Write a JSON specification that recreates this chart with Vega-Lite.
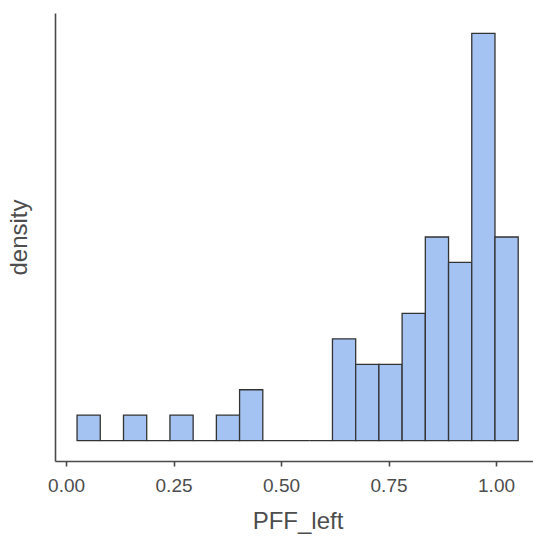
{
  "$schema": "https://vega.github.io/schema/vega-lite/v6.json",
  "autosize": {"type": "none"},
  "padding": {"left": 55, "top": 13, "right": 0, "bottom": 77},
  "width": 485,
  "height": 448,
  "background": "white",
  "config": {
    "view": {"stroke": null},
    "font": "Liberation Sans",
    "axis": {
      "grid": false,
      "domainColor": "#4a4a4a",
      "domainWidth": 1.6,
      "tickColor": "#4a4a4a",
      "tickWidth": 1.6,
      "labelColor": "#4d4d4d",
      "titleColor": "#4d4d4d",
      "titleFontWeight": "normal",
      "labelFont": "Liberation Sans",
      "titleFont": "Liberation Sans"
    }
  },
  "data": {
    "values": [
      {"bin_start": 0.0256, "bin_end": 0.0796, "count": 1, "density": 0.3086},
      {"bin_start": 0.0796, "bin_end": 0.1336, "count": 0, "density": 0},
      {"bin_start": 0.1336, "bin_end": 0.1876, "count": 1, "density": 0.3086},
      {"bin_start": 0.1876, "bin_end": 0.2416, "count": 0, "density": 0},
      {"bin_start": 0.2416, "bin_end": 0.2956, "count": 1, "density": 0.3086},
      {"bin_start": 0.2956, "bin_end": 0.3496, "count": 0, "density": 0},
      {"bin_start": 0.3496, "bin_end": 0.4036, "count": 1, "density": 0.3086},
      {"bin_start": 0.4036, "bin_end": 0.4576, "count": 2, "density": 0.6173},
      {"bin_start": 0.4576, "bin_end": 0.5116, "count": 0, "density": 0},
      {"bin_start": 0.5116, "bin_end": 0.5656, "count": 0, "density": 0},
      {"bin_start": 0.5656, "bin_end": 0.6196, "count": 0, "density": 0},
      {"bin_start": 0.6196, "bin_end": 0.6736, "count": 4, "density": 1.2346},
      {"bin_start": 0.6736, "bin_end": 0.7276, "count": 3, "density": 0.9259},
      {"bin_start": 0.7276, "bin_end": 0.7816, "count": 3, "density": 0.9259},
      {"bin_start": 0.7816, "bin_end": 0.8356, "count": 5, "density": 1.5432},
      {"bin_start": 0.8356, "bin_end": 0.8896, "count": 8, "density": 2.4691},
      {"bin_start": 0.8896, "bin_end": 0.9436, "count": 7, "density": 2.1605},
      {"bin_start": 0.9436, "bin_end": 0.9976, "count": 16, "density": 4.9383},
      {"bin_start": 0.9976, "bin_end": 1.0516, "count": 8, "density": 2.4691}
    ]
  },
  "mark": {"type": "bar", "fill": "#A4C3F2", "stroke": "#333333", "strokeWidth": 1.3, "clip": true},
  "encoding": {
    "x": {
      "field": "bin_start",
      "type": "quantitative",
      "scale": {"domain": [-0.0257, 1.1023], "nice": false, "zero": false},
      "axis": {
        "title": "PFF_left",
        "values": [0, 0.25, 0.5, 0.75, 1],
        "format": ".2f",
        "labelFontSize": 19,
        "titleFontSize": 24,
        "tickSize": 5,
        "labelPadding": 10,
        "titlePadding": 14,
        "labelFlush": false
      }
    },
    "x2": {"field": "bin_end"},
    "y": {
      "field": "density",
      "type": "quantitative",
      "scale": {"domain": [-0.2469, 5.1852], "nice": false, "zero": false},
      "axis": {
        "title": "density",
        "labels": false,
        "ticks": false,
        "titleFontSize": 24,
        "titlePadding": 24
      }
    },
    "y2": {"datum": 0}
  }
}
